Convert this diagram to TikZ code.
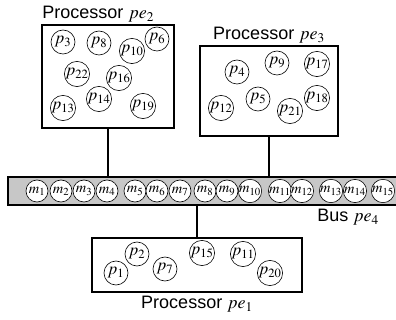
\documentclass[tikz,border=0pt]{standalone}
\usepackage{mathptmx}
\usepackage{fontspec}
\setmainfont{Liberation Serif}
\newfontfamily\procfont{Liberation Sans}
\usetikzlibrary{positioning}
\tikzstyle{proc}  = [draw,
                     line width=1.6pt,
                     inner sep=0pt]
\tikzstyle{task}  = [draw, circle,
                     line width=0.6pt,
                     minimum size=24pt,
                     inner sep=0pt,
                     font=\fontsize{17}{17}\selectfont]
\tikzstyle{msg}   = [draw, circle, fill=white,
                     line width=0.6pt,
                     minimum size=22pt,
                     inner sep=0pt,
                     font=\fontsize{14.5}{14.5}\selectfont]
\tikzstyle{link}  = [line width=1.4pt]
\tikzstyle{plabel} = [font=\procfont\fontsize{18}{20}\selectfont,
                      inner sep=1pt]

\begin{document}
\begin{tikzpicture}[x=1pt, y=-1pt]
  \useasboundingbox (0,0) rectangle (396,320);

  % Processors and bus
  \node[proc, minimum width=132pt, minimum height=103pt] (pe2) at (108,76.5) {};
  \node[proc, minimum width=138pt, minimum height=90pt]  (pe3) at (269,91)   {};
  \node[proc, minimum width=210pt, minimum height=54pt]  (pe1) at (197,265)  {};
  \node[draw, line width=1.2pt, fill=black!22, minimum width=392pt,
        minimum height=28pt, inner sep=0pt] (bus) at (204,191) {};

  % Labels
  \node[plabel, anchor=south west, yshift=1pt] (l2) at (pe2.north west) {Processor $pe_2$};
  \node[plabel, above=1pt of pe3] (l3) {Processor $pe_3$};
  \node[plabel, below=2pt of pe1] (l1) {Processor $pe_1$};
  \node[plabel, anchor=north east] (l4) at (380,208) {Bus $pe_4$};

  % Tasks
  \foreach \n/\x/\y in {3/63/42, 8/99/43, 10/132/51, 6/157/39, 22/77/74,
                        16/119/78, 14/99/99, 13/63/108, 19/143/106}
    \node[task] (p\n) at (\x,\y) {$p_{\n}$};
  \foreach \n/\x/\y in {4/237/72, 9/277/63, 17/317/64, 12/221/108,
                        5/258/99, 21/290/111, 18/317/98}
    \node[task] (p\n) at (\x,\y) {$p_{\n}$};
  \foreach \n/\x/\y in {1/116/273, 2/137/254, 7/165/269, 15/202/253,
                        11/243/254, 20/270/273}
    \node[task] (p\n) at (\x,\y) {$p_{\n}$};

  % Messages on the bus
  \foreach \x [count=\i] in {37,61,84,107,135,157,180,205,
                             227,250,280,302,331,355,383}
    \node[msg] (m\i) at (\x,191) {$m_{\i}$};

  % Edges
  \draw[link] (pe2.south) -- (pe2.south |- bus.north);
  \draw[link] (pe3.south) -- (pe3.south |- bus.north);
  \draw[link] (bus.south -| pe1.north) -- (pe1.north);

\end{tikzpicture}
\end{document}
